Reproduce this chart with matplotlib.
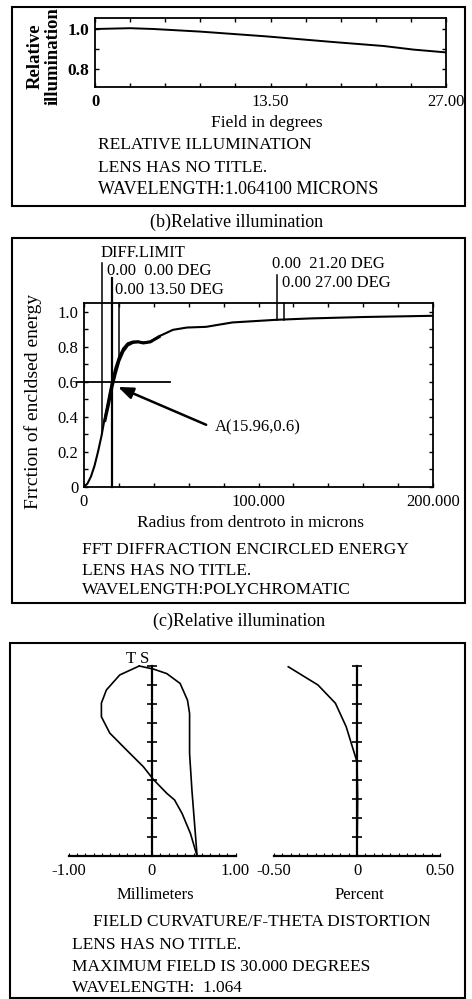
import matplotlib
matplotlib.use('Agg')
import matplotlib.pyplot as plt
import numpy as np
from matplotlib.patches import Rectangle

plt.rcParams['font.family'] = ['Liberation Serif', 'DejaVu Serif']

# (b) relative illumination
ri_field = [0, 2.7, 4.5, 8.1, 13.2, 18.3, 22.2, 24.5, 27.0]
ri_value = [1.0, 1.004, 1.0, 0.987, 0.963, 0.935, 0.915, 0.897, 0.883]

# (c) encircled energy
ee_radius = [0, 2, 4, 6, 8, 10, 12, 14, 16, 18, 20, 22.4, 25, 28, 31, 34, 38, 43,
             51, 59, 70, 85, 100, 110, 130, 160, 200]
ee_energy = [0, 0.02, 0.06, 0.12, 0.2, 0.29, 0.4, 0.5, 0.6, 0.68, 0.74, 0.79, 0.82,
             0.83, 0.83, 0.825, 0.83, 0.86, 0.897, 0.91, 0.914, 0.939, 0.948, 0.954,
             0.962, 0.97, 0.977]
ee_radius2 = [12, 14, 16, 18, 20, 22.4, 25, 28, 31, 34, 38, 43]
ee_energy2 = [0.38, 0.47, 0.57, 0.65, 0.72, 0.775, 0.81, 0.825, 0.828, 0.822, 0.828, 0.857]
point_a = (15.96, 0.6)

# field curvature / distortion (field fraction 0..1)
t_field = [1.0, 0.953, 0.874, 0.805, 0.733, 0.647, 0.558, 0.47, 0.403, 0.33, 0.295, 0.224, 0.119, 0.0]
t_mm = [-0.153, -0.386, -0.546, -0.606, -0.606, -0.506, -0.305, -0.104, 0.016, 0.177, 0.27, 0.36, 0.46, 0.54]
s_field = [1.0, 0.984, 0.96, 0.908, 0.82, 0.751, 0.54, 0.347, 0.0]
s_mm = [-0.153, 0.016, 0.177, 0.337, 0.425, 0.45, 0.45, 0.478, 0.54]
d_field = [0.996, 0.9, 0.804, 0.68, 0.575, 0.496, 0.3, 0.0]
d_pct = [-0.414, -0.235, -0.13, -0.065, -0.028, 0.0, 0.004, 0.0]

W, H = 472, 999
fig = plt.figure(figsize=(W / 100, H / 100), dpi=100)


def rect(x0, y0, x1, y1):
    return [x0 / W, 1 - y1 / H, (x1 - x0) / W, (y1 - y0) / H]


def txt(x, y, s, size=12.5, **kw):
    kw.setdefault('va', 'center')
    fig.text(x / W, 1 - y / H, s, fontsize=size, **kw)


def box(x0, y0, x1, y1):
    fig.patches.append(Rectangle((x0 / W, 1 - y1 / H), (x1 - x0) / W, (y1 - y0) / H,
                                 transform=fig.transFigure, fill=False, lw=1.5,
                                 ec='black'))


box(12, 7, 465, 206)
box(12, 238, 465, 603)
box(10, 643, 465, 998)

# ---- panel (b)
ax1 = fig.add_axes(rect(95, 18, 446, 87))
ax1.plot(ri_field, ri_value, c='k', lw=1.4)
ax1.set_xlim(0, 27)
ax1.set_ylim(0.71, 1.055)
ax1.set_xticks([0, 13.5, 27])
ax1.set_xticklabels(['0', '13.50', '27.00'], fontsize=12)
ax1.set_xticks(np.arange(0, 27.1, 2.7), minor=True)
ax1.set_yticks([0.8, 1.0])
ax1.set_yticklabels(['0.8', '1.0'], fontsize=12.5, fontweight='bold')
ax1.set_yticks([0.9], minor=True)
ax1.tick_params(which='both', direction='in', top=True, right=True, length=3, width=1)
ax1.tick_params(axis='x', pad=5)
ax1.tick_params(axis='y', pad=4)
ax1.get_xticklabels()[0].set_fontweight('bold')
for s in ax1.spines.values():
    s.set_linewidth(1.3)
txt(44, 56, 'Relative\nillumination', size=13.5, rotation=90, ha='center',
    fontweight='bold', linespacing=1.05)
txt(267, 123, 'Field in degrees', ha='center')
txt(98, 145, 'RELATIVE ILLUMINATION')
txt(98, 168, 'LENS HAS NO TITLE.')
txt(98, 190, 'WAVELENGTH:1.064100 MICRONS', size=13)
txt(237, 222, '(b)Relative illumination', ha='center', size=13)

# ---- panel (c) encircled energy
ax2 = fig.add_axes(rect(84, 303, 433, 487))
ax2.plot(ee_radius, ee_energy, c='k', lw=1.5)
ax2.plot(ee_radius2, ee_energy2, c='k', lw=2.2)
ax2.set_xlim(0, 200)
ax2.set_ylim(0, 1.05)
ax2.set_xticks([0, 100, 200])
ax2.set_xticklabels(['0', '100.000', '200.000'], fontsize=12)
ax2.set_xticks(np.arange(0, 201, 20), minor=True)
ax2.set_yticks(np.arange(0, 1.01, 0.2))
ax2.set_yticklabels(['0', '0.2', '0.4', '0.6', '0.8', '1.0'], fontsize=12)
ax2.set_yticks(np.arange(0, 1.05, 0.1), minor=True)
ax2.tick_params(which='both', direction='in', top=True, right=True, length=3, width=1)
ax2.tick_params(axis='x', pad=5)
ax2.tick_params(axis='y', pad=4)
for s in ax2.spines.values():
    s.set_linewidth(1.3)


def marker(r, top, bottom=None, lw=1.1):
    if bottom is None:
        bottom = np.interp(r, ee_radius, ee_energy)
    ax2.plot([r, r], [bottom, top], c='k', lw=lw, clip_on=False)


marker(10.3, 1.28)
marker(point_a[0], 1.19, 0, lw=1.6)
marker(20.0, 1.05)
marker(110.6, 1.21)
marker(114.6, 1.05)
ax2.plot([-4, 49.3], [point_a[1], point_a[1]], c='k', lw=1.3, clip_on=False)
ax2.annotate('', xy=(19.5, 0.571), xytext=(70, 0.355),
             arrowprops=dict(arrowstyle='-|>,head_length=0.9,head_width=0.35',
                             lw=1.8, color='k', shrinkA=0, shrinkB=0))
ax2.text(75, 0.343, 'A(%.2f,%.1f)' % point_a, fontsize=12, va='center')
ax2.text(9.2, 1.337, 'DIFF.LIMIT', fontsize=12, va='center', clip_on=False)
ax2.text(13.0, 1.23, '0.00  0.00 DEG', fontsize=12, va='center', clip_on=False)
ax2.text(18.0, 1.126, '0.00 13.50 DEG', fontsize=12, va='center', clip_on=False)
ax2.text(108.0, 1.27, '0.00  21.20 DEG', fontsize=12, va='center', clip_on=False)
ax2.text(113.3, 1.166, '0.00 27.00 DEG', fontsize=12, va='center', clip_on=False)
txt(33, 401, 'Frrction of encldsed energy', size=14, rotation=90, ha='center')
txt(250, 523, 'Radius from dentroto in microns', ha='center')
txt(82, 550, 'FFT DIFFRACTION ENCIRCLED ENERGY')
txt(82, 571, 'LENS HAS NO TITLE.')
txt(82, 590, 'WAVELENGTH:POLYCHROMATIC')
txt(239, 621, '(c)Relative illumination', ha='center', size=13)

# ---- panel field curvature / distortion
def field_axes(r, xmax, labels):
    ax = fig.add_axes(r)
    ax.set_xlim(-xmax, xmax)
    ax.set_ylim(0, 1)
    ax.spines['top'].set_visible(False)
    ax.spines['right'].set_visible(False)
    ax.spines['left'].set_position(('data', 0))
    ax.spines['left'].set_linewidth(1.6)
    ax.spines['bottom'].set_linewidth(1.6)
    ax.set_yticks(np.arange(0, 1.01, 0.1))
    ax.set_yticklabels([])
    ax.tick_params(axis='y', direction='inout', length=7, width=1.2)
    ax.set_xticks([-xmax, 0, xmax])
    ax.set_xticklabels(labels, fontsize=12)
    ax.set_xticks(np.linspace(-xmax, xmax, 21), minor=True)
    ax.tick_params(axis='x', which='both', direction='in', length=2.5, width=0.8, pad=5)
    ax.patch.set_visible(False)
    return ax


ax3 = field_axes(rect(68.5, 666, 235.5, 856), 1.0, ['-1.00', '0', '1.00'])
ax3.plot(t_mm, t_field, c='k', lw=1.2, clip_on=False)
ax3.plot(s_mm, s_field, c='k', lw=1.2, clip_on=False)
ax4 = field_axes(rect(274, 666, 440, 856), 0.5, ['-0.50', '0', '0.50'])
ax4.plot(d_pct, d_field, c='k', lw=1.2, clip_on=False)

txt(126, 659, 'T S', size=12)
txt(155, 895, 'Millimeters', ha='center', size=12)
txt(359, 895, 'Percent', ha='center', size=12)
txt(93, 922, 'FIELD CURVATURE/F-THETA DISTORTION')
txt(72, 945, 'LENS HAS NO TITLE.')
txt(72, 967, 'MAXIMUM FIELD IS 30.000 DEGREES')
txt(72, 988, 'WAVELENGTH:  1.064')

fig.savefig('out.png', dpi=100)
